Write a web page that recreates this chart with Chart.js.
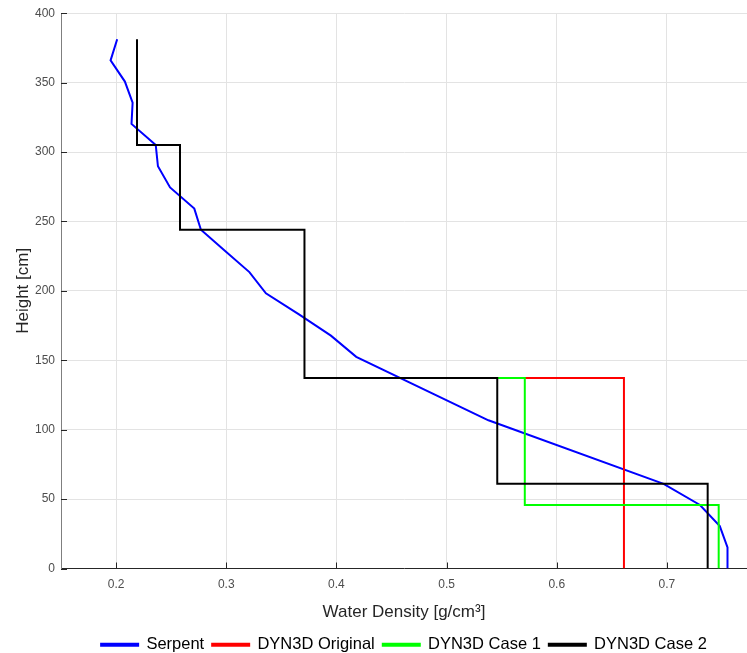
<!DOCTYPE html>
<html>
<head>
<meta charset="utf-8">
<script src="https://cdn.jsdelivr.net/npm/chart.js@4"></script>
<style>
  html, body { margin: 0; padding: 0; background: #fff; }
  #wrap { width: 747px; height: 653px; }
</style>
</head>
<body>
<div id="wrap"><canvas id="densityChart" width="747" height="653"></canvas></div>
<script>
// axial node heights [cm] and Serpent water density [g/cm3]
const serpentHeight = [0, 15.25, 30.5, 45.75, 61, 106.75, 152.5, 167.75, 183, 198.25, 213.5, 228.75, 244, 259.25, 274.5, 289.75, 305, 320.25, 335.5, 350.75, 366, 381.25];
const serpentDensity = [0.755, 0.755, 0.748, 0.730, 0.697, 0.538, 0.418, 0.395, 0.366, 0.336, 0.321, 0.299, 0.277, 0.271, 0.249, 0.238, 0.236, 0.214, 0.215, 0.208, 0.195, 0.201];

// DYN3D step profiles (corner points); above 137 cm Original and Case 1 lie under Case 2
const originalHeight = [137.25, 137.25, 0];
const originalDensity = [0.546, 0.661, 0.661];
const case1Height = [137.25, 137.25, 45.75, 45.75, 0];
const case1Density = [0.546, 0.571, 0.571, 0.747, 0.747];
const case2Height = [381.25, 305, 305, 244, 244, 137.25, 137.25, 61, 61, 0];
const case2Density = [0.219, 0.219, 0.258, 0.258, 0.371, 0.371, 0.546, 0.546, 0.737, 0.737];

const xTicks = [0.2, 0.3, 0.4, 0.5, 0.6, 0.7];
const yTicks = [0, 50, 100, 150, 200, 250, 300, 350, 400];

const FONT = "'Liberation Sans', Arial, sans-serif";

function pts(xs, ys) {
  return xs.map((x, i) => ({ x, y: ys[i] }));
}

function line(label, xs, ys, color, order) {
  return {
    label,
    data: pts(xs, ys),
    borderColor: color,
    backgroundColor: color,
    borderWidth: 2,
    pointRadius: 0,
    tension: 0,
    order,
  };
}

// small inward tick marks like the original figure
const innerTicks = {
  id: "innerTicks",
  afterDatasetsDraw(chart) {
    const { ctx, chartArea: a, scales: { x, y } } = chart;
    ctx.save();
    ctx.strokeStyle = "#262626";
    ctx.lineWidth = 1;
    ctx.beginPath();
    xTicks.forEach(v => {
      const px = Math.round(x.getPixelForValue(v)) + 0.5;
      ctx.moveTo(px, a.bottom);
      ctx.lineTo(px, a.bottom - 6);
    });
    yTicks.forEach(v => {
      const py = Math.round(y.getPixelForValue(v)) + 0.5;
      ctx.moveTo(a.left, py);
      ctx.lineTo(a.left + 6, py);
    });
    ctx.stroke();
    ctx.restore();
  },
};

new Chart(document.getElementById("densityChart"), {
  type: "line",
  data: {
    datasets: [
      line("Serpent", serpentDensity, serpentHeight, "#0000ff", 4),
      line("DYN3D Original", originalDensity, originalHeight, "#ff0000", 3),
      line("DYN3D Case 1", case1Density, case1Height, "#00ff00", 2),
      line("DYN3D Case 2", case2Density, case2Height, "#000000", 1),
    ],
  },
  options: {
    responsive: false,
    animation: false,
    layout: { padding: { top: 13, right: 0, bottom: -10, left: 0 } },
    plugins: {
      tooltip: { enabled: false },
      legend: {
        position: "bottom",
        fullSize: false,
        labels: {
          sort: (a, b) => a.datasetIndex - b.datasetIndex,
          boxWidth: 37,
          boxHeight: 2,
          padding: 8,
          color: "#000",
          font: { family: FONT, size: 16.5 },
        },
      },
    },
    scales: {
      x: {
        type: "linear",
        min: 0.15,
        max: 0.7727,
        afterBuildTicks: s => { s.ticks = xTicks.map(value => ({ value })); },
        afterFit: s => { s.height = 60; },
        grid: { color: "#e3e3e3", drawTicks: false },
        border: { color: "#262626", width: 1 },
        ticks: { padding: 9, color: "#4d4d4d", font: { family: FONT, size: 12 }, callback: v => v.toFixed(1) },
        title: { display: true, text: "Water Density [g/cm³]", color: "#262626", font: { family: FONT, size: 17 }, padding: { top: 0, bottom: 6 } },
      },
      y: {
        type: "linear",
        min: 0,
        max: 400,
        afterBuildTicks: s => { s.ticks = yTicks.map(value => ({ value })); },
        afterFit: s => { s.width = 61; },
        grid: { color: "#e3e3e3", drawTicks: false },
        border: { color: "#7f7f7f", width: 1 },
        ticks: { padding: 6, color: "#4d4d4d", font: { family: FONT, size: 12 } },
        title: { display: true, text: "Height [cm]", color: "#262626", font: { family: FONT, size: 17 }, padding: { top: 13, bottom: 0 } },
      },
    },
  },
  plugins: [innerTicks],
});
</script>
</body>
</html>
